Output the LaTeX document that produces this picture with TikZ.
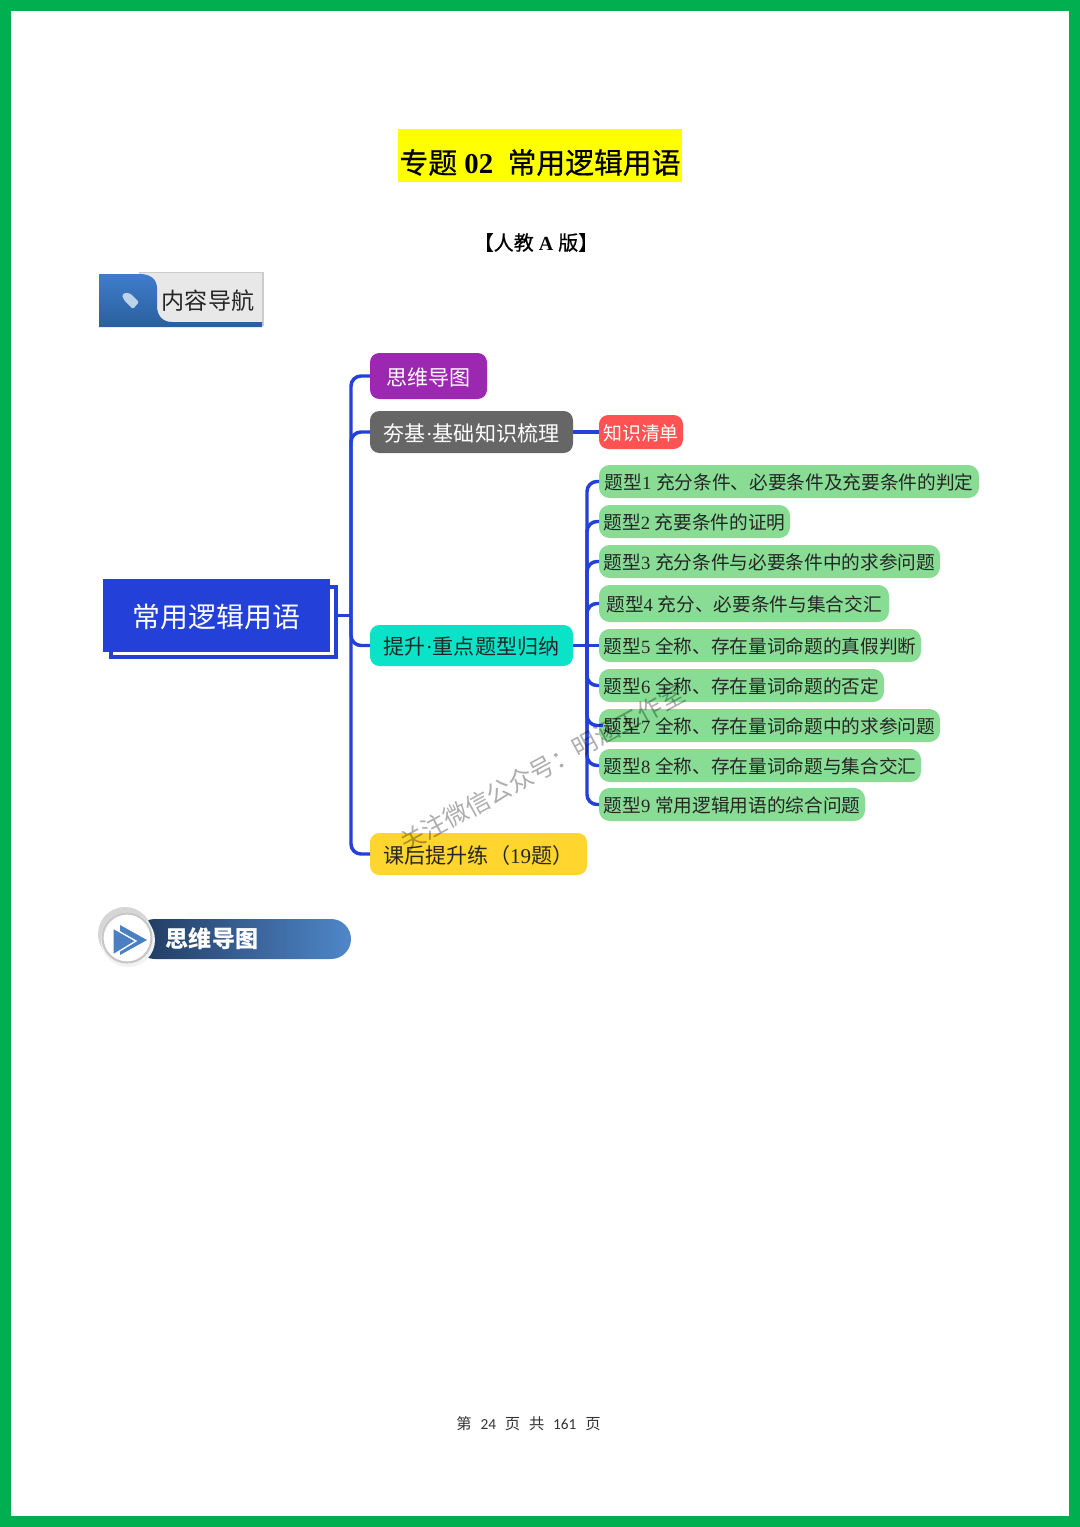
\documentclass[tikz,border=0pt]{standalone}
\usepackage{fontspec}
\setmainfont{Liberation Serif}
\newfontfamily\cjk{Noto Sans CJK SC}
\newfontfamily\cjkheavy[FakeBold=0.6]{Noto Sans CJK SC}
\newfontfamily\footlat{Carlito}
\usetikzlibrary{calc}
\definecolor{framegreen}{HTML}{00B050}
\definecolor{linkblue}{HTML}{2340D8}
\definecolor{leafgreen}{HTML}{88DC94}
\definecolor{bandlight}{HTML}{4F87C9}
\definecolor{banddark}{HTML}{203A5F}
\definecolor{tablight}{HTML}{3F7DCB}
\definecolor{tabdark}{HTML}{2A5F9E}
\definecolor{purebright}{HTML}{FFFF00}
\definecolor{tagpale}{HTML}{BFD3E8}
\definecolor{arrowblue}{HTML}{4A7FC1}
\newcommand\qtype[2]{{\cjk 题型}#1\ {\cjk #2}}
\tikzset{
  spanbox/.style n args={4}{anchor=center,inner sep=0pt,outer sep=0pt,
    minimum width={(#3-#1)*0.75pt},minimum height={(#4-#2)*0.75pt},
    at={({(#1+#3)/2},{(#2+#4)/2})}},
  conn/.style={draw=linkblue,line width=2.6pt,rounded corners=7.5pt},
  stem/.style={draw=linkblue,line width=2.6pt},
  topic/.style={rounded corners=7pt,text height=13.5pt,text depth=0pt,font=\fontsize{15.8}{18}\selectfont},
  leaf/.style={fill=leafgreen,rounded corners=8pt,text=black!85,text height=12.1pt,text depth=0pt,font=\fontsize{14}{17}\selectfont},
}
\begin{document}
\begin{tikzpicture}[x=0.75pt,y=-0.75pt]
\useasboundingbox (0,0) rectangle (1080,1527);
% page frame
\fill[framegreen] (0,0) rectangle (1080,1527);
\fill[white] (11,11) rectangle (1069,1516);
% title
\node[spanbox={398}{129}{682}{182},fill=purebright,text height=26.9pt,text depth=0pt,font=\fontsize{21.6}{24}\selectfont] (title)
  {{\cjkheavy 专题} \textbf{02}\ \ {\cjkheavy 常用逻辑用语}};
\node[font=\fontsize{15}{18}\selectfont,inner sep=0pt] (edition) at (536,242.5) {{\cjkheavy 【人教} \textbf{A} {\cjkheavy 版】}};
% navigation tag
\draw[draw=black!20,fill=black!9,line width=0.9pt] (140,272.5) rectangle (263,325);
\shade[top color=tablight,bottom color=tabdark]
  (99,274) -- (140,274) .. controls (150,274) and (157,279) .. (157,288) -- (157,306)
  .. controls (157,316) and (163,322) .. (172,322) -- (262,322) -- (262,327) -- (99,327) -- cycle;
\fill[tagpale,rounded corners=1pt]
  (122,295) -- (126,292.5) -- (131,294) -- (139,302) -- (133,309) -- (124,300) -- cycle;
\node[font=\cjk\fontsize{17.3}{20}\selectfont,text=black!85,inner sep=0pt] (navlabel) at (208,301) {内容导航};
% mind map nodes
\node[spanbox={111}{587}{336}{657},draw=linkblue,line width=2.3pt,fill=white] (rootb) {};
\node[spanbox={103}{579}{330}{652},fill=linkblue,text=white,text height=17.4pt,text depth=0pt,font=\cjk\fontsize{20.9}{24}\selectfont] (root) {常用逻辑用语};
\node[spanbox={370}{353}{487}{399},topic,fill={rgb,255:red,156;green,39;blue,176},text=white,font=\cjk\fontsize{15.8}{18}\selectfont] (mapnode) {思维导图};
\node[spanbox={370}{411}{573}{453},topic,fill=black!60,text=white] (basenode) {{\cjk 夯基}·{\cjk 基础知识梳理}};
\node[spanbox={599}{415}{683}{449},rounded corners=7pt,fill={rgb,255:red,255;green,82;blue,82},text=white,text height=12.3pt,text depth=0pt,font=\cjk\fontsize{14.2}{17}\selectfont] (listnode) {知识清单};
\node[spanbox={370}{625}{573}{666},topic,fill={rgb,255:red,11;green,227;blue,200},text=black!85] (upnode) {{\cjk 提升}·{\cjk 重点题型归纳}};
\node[spanbox={370}{833}{587}{875},topic,fill={rgb,255:red,255;green,213;blue,46},text=black!85] (homenode) {{\cjk 课后提升练（}19{\cjk 题）}};
\node[spanbox={599}{465}{979}{498},leaf] (t1) {\qtype{1}{充分条件、必要条件及充要条件的判定}};
\node[spanbox={599}{505}{790}{538},leaf] (t2) {\qtype{2}{充要条件的证明}};
\node[spanbox={599}{545}{940}{578},leaf] (t3) {\qtype{3}{充分条件与必要条件中的求参问题}};
\node[spanbox={599}{585}{889}{622},leaf] (t4) {\qtype{4}{充分、必要条件与集合交汇}};
\node[spanbox={599}{629}{921}{662},leaf] (t5) {\qtype{5}{全称、存在量词命题的真假判断}};
\node[spanbox={599}{669}{884}{702},leaf] (t6) {\qtype{6}{全称、存在量词命题的否定}};
\node[spanbox={599}{709}{940}{742},leaf] (t7) {\qtype{7}{全称、存在量词命题中的求参问题}};
\node[spanbox={599}{749}{921}{782},leaf] (t8) {\qtype{8}{全称、存在量词命题与集合交汇}};
\node[spanbox={599}{788}{865}{821},leaf] (t9) {\qtype{9}{常用逻辑用语的综合问题}};
% connectors
\coordinate (hubA) at (351,615.5);
\coordinate (hubB) at (587,645.5);
\draw[stem] (rootb.east |- root.center) -- (hubA);
\draw[conn] (hubA) |- (mapnode.west);
\draw[conn] (hubA) |- (basenode.west);
\draw[conn] (hubA) |- (upnode.west);
\draw[conn] (hubA) |- (homenode.west);
\draw[stem] (basenode.east) -- (listnode.west);
\draw[stem] (upnode.east) -- (t5.west);
\foreach \leafname in {t1,t2,t3,t4,t6,t8,t9}{\draw[conn] (hubB) |- (\leafname.west);}
\coordinate (t7tip) at ($(t7.west)+(4,0)$);
\draw[conn] (hubB) |- (t7tip);
% banner
\shade[left color=banddark,right color=bandlight,rounded corners=15pt] (135,919) rectangle (351,959);
\fill[black!16] (125,934) circle[radius=27];
\fill[black!5] (128,940) circle[radius=27];
\fill[white] (127,938) circle[radius=25.5];
\draw[black!22,line width=1.6pt] (127,938) circle[radius=24.5];
\fill[arrowblue] (120,925) -- (147,940) -- (120,955) -- cycle;
\draw[white,line width=1pt,fill=arrowblue,line join=miter] (113,928) -- (136,941) -- (113,955) -- cycle;
\node[font=\cjk\bfseries\fontsize{17.3}{20}\selectfont,text=white,inner sep=0pt] (bandlabel) at (212,939) {思维导图};
% watermark
\node[rotate=28.5,font=\cjk\fontsize{18.4}{20}\selectfont,text=black,opacity=0.32,inner sep=0pt] (mark) at (542,768) {关注微信公众号：明涵工作室};
% footer
\node[font=\fontsize{11.5}{13}\selectfont,text=black!80,inner sep=0pt] (footer) at (528.5,1424)
  {{\cjk 第}\hspace{6.6pt}{\footlat 24}\hspace{6.6pt}{\cjk 页}\hspace{6.6pt}{\cjk 共}\hspace{6.6pt}{\footlat 161}\hspace{6.6pt}{\cjk 页}};
\end{tikzpicture}
\end{document}
